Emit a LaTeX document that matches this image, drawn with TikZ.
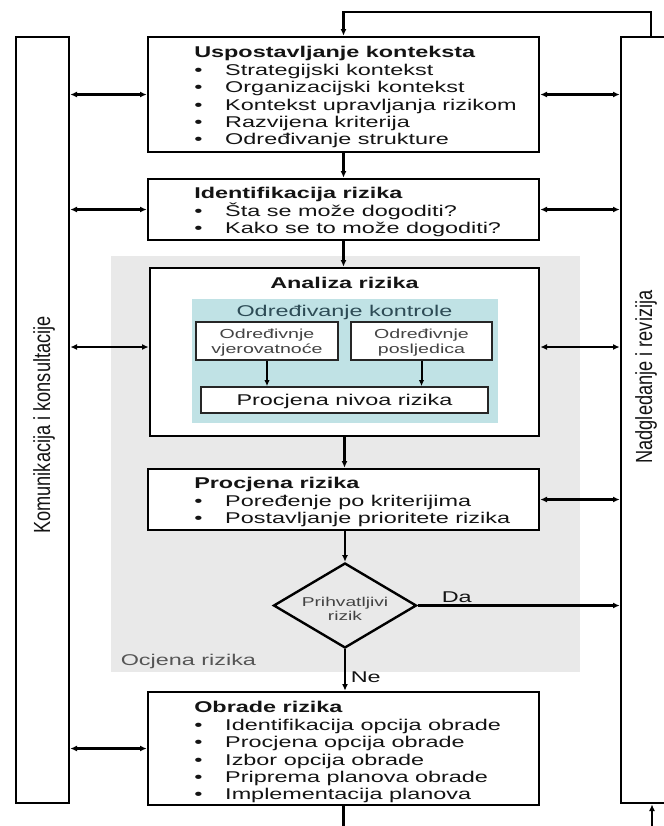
\documentclass[tikz,border=0pt]{standalone}
\usepackage{fontspec}
\setmainfont[FakeStretch=1.5]{Liberation Sans}
\newfontfamily\rotfont[FakeStretch=0.78]{Liberation Sans}
\usetikzlibrary{arrows.meta,shapes.geometric,fit}
\definecolor{graybg}{RGB}{233,233,233}
\definecolor{cyanbg}{RGB}{192,226,229}
\definecolor{tealtext}{RGB}{45,75,85}
\definecolor{txtgray}{RGB}{20,20,20}
\definecolor{softgray}{RGB}{85,85,85}
\newcommand\bul{\makebox[23.25pt][l]{\textbullet}}
\begin{document}
\begin{tikzpicture}[x=0.75pt,y=-0.75pt,
  box/.style={draw=black, line width=2pt, fill=white, inner sep=0pt},
  bar/.style={draw=black, line width=2pt, fill=white, inner sep=0pt},
  area/.style={inner sep=0pt, draw=none},
  smallbox/.style={draw=black!85, line width=1.3pt, fill=white, inner sep=0pt},
  body/.style={font=\fontsize{11.7}{13.05}\selectfont, text=txtgray, inner sep=0pt, align=left},
  small/.style={font=\fontsize{9.8}{11.8}\selectfont, text=txtgray!80, inner sep=0pt, align=center},
  flow/.style={line width=1.8pt, -{Latex[length=5pt,width=4.5pt]}},
  thinflow/.style={line width=1.5pt, -{Latex[length=4.5pt,width=4pt]}},
  both/.style={line width=1.8pt, {Latex[length=5pt,width=4.5pt]}-{Latex[length=5pt,width=4.5pt]}},
  plain/.style={line width=1.8pt},
]
\useasboundingbox (0,0) rectangle (664,826);
\clip (0,0) rectangle (664,826);

% background area
\node[area, fill=graybg, fit={(111,256)(580,672)}] (assess) {};

% side bars
\node[bar, fit={(16,37)(69,803)}] (lbar) {};
\node[bar, fit={(621,37)(674,803)}] (rbar) {};

% main boxes
\node[box, fit={(148,37)(539,152)}] (b1) {};
\node[box, fit={(148,179)(539,240)}] (b2) {};
\node[box, fit={(150,268)(539,436)}] (b3) {};
\node[box, fit={(148,469)(539,530)}] (b4) {};
\node[box, fit={(148,692)(539,805)}] (b5) {};

% inner analysis
\node[area, fill=cyanbg, fit={(192,299)(498,423)}] (ctrl) {};
\node[smallbox, fit={(196,322)(338,360)}] (s1) {};
\node[smallbox, fit={(351,322)(492,360)}] (s2) {};
\node[smallbox, fit={(201,387)(488,413)}] (niv) {};

% decision
\node[diamond, draw=black, line width=1.8pt, minimum width=107.25pt, minimum height=63.75pt, inner sep=0pt] (dec) at (345,605.5) {};

% helper coordinates
\coordinate (y3) at (0,347);
\coordinate (loopR) at (651,12);
\coordinate (bottomY) at (0,826);
\coordinate (loopB) at (652,826);

% vertical flow
\draw[flow] (b1.south) -- (b1.south |- b2.north);
\draw[flow] (b2.south) -- (b2.south |- b3.north);
\draw[flow] (b3.south) -- (b3.south |- b4.north);
\draw[flow] (dec.north |- b4.south) -- (dec.north);
\draw[flow] (dec.south) -- (dec.south |- b5.north);
\draw[flow] (dec.east) -- (dec.east -| rbar.west);
\draw[thinflow] (s1.south) -- (s1.south |- niv.north);
\draw[thinflow] (s2.south) -- (s2.south |- niv.north);

% left connections
\draw[both] (lbar.east |- b1.west) -- (b1.west);
\draw[both] (lbar.east |- b2.west) -- (b2.west);
\draw[both] (lbar.east |- y3) -- (b3.west |- y3);
\draw[both] (lbar.east |- b5.west) -- (b5.west);

% right connections
\draw[both] (b1.east) -- (rbar.west |- b1.east);
\draw[both] (b2.east) -- (rbar.west |- b2.east);
\draw[both] (b3.east |- y3) -- (rbar.west |- y3);
\draw[both] (b4.east) -- (rbar.west |- b4.east);

% feedback loops
\draw[flow] (loopR |- rbar.north) -- (loopR) -| (b1.north);
\draw[plain] (b5.south) -- (b5.south |- bottomY);
\draw[flow] (loopB) -- (loopB |- rbar.south);

% texts
\node[body, anchor=north west] (t1) at (194,46.3) {\textbf{Uspostavljanje konteksta}\\
\bul Strategijski kontekst\\
\bul Organizacijski kontekst\\
\bul Kontekst upravljanja rizikom\\
\bul Razvijena kriterija\\
\bul Određivanje strukture};

\node[body, anchor=north west] (t2) at (194,187.3) {\textbf{Identifikacija rizika}\\
\bul Šta se može dogoditi?\\
\bul Kako se to može dogoditi?};

\node[body, anchor=base] (t3) at (344.5,288) {\textbf{Analiza rizika}};
\node[body, anchor=base, text=tealtext] (t3b) at (344.5,316) {Određivanje kontrole};
\node[small, anchor=north] (ts1) at (267,328.5) {Određivnje\\vjerovatnoće};
\node[small, anchor=north] (ts2) at (421.5,328.5) {Određivnje\\posljedica};
\node[body, anchor=base] (tniv) at (344.5,405) {Procjena nivoa rizika};

\node[body, anchor=north west] (t4) at (194,477.3) {\textbf{Procjena rizika}\\
\bul Poređenje po kriterijima\\
\bul Postavljanje prioritete rizika};

\node[font=\fontsize{9.6}{10.7}\selectfont, text=txtgray!80, inner sep=0pt, align=center, anchor=north] (tdec) at (345,596.5) {Prihvatljivi\\rizik};
\node[body, anchor=base west] (tda) at (441.5,602.5) {Da};
\node[body, anchor=base west] (tne) at (350.5,682.5) {Ne};
\node[body, anchor=base west, text=softgray] (tocj) at (120.5,665.5) {Ocjena rizika};

\node[body, anchor=north west] (t5) at (194,701.3) {\textbf{Obrade rizika}\\
\bul Identifikacija opcija obrade\\
\bul Procjena opcija obrade\\
\bul Izbor opcija obrade\\
\bul Priprema planova obrade\\
\bul Implementacija planova};

\node[rotate=90, font=\rotfont\fontsize{17.5}{18}\selectfont, text=txtgray, inner sep=0pt] (ltxt) at (44,425) {Komunikacija i konsultacije};
\node[rotate=90, font=\rotfont\fontsize{17.5}{18}\selectfont, text=txtgray, inner sep=0pt] (rtxt) at (646,377) {Nadgledanje i revizija};
\end{tikzpicture}
\end{document}
